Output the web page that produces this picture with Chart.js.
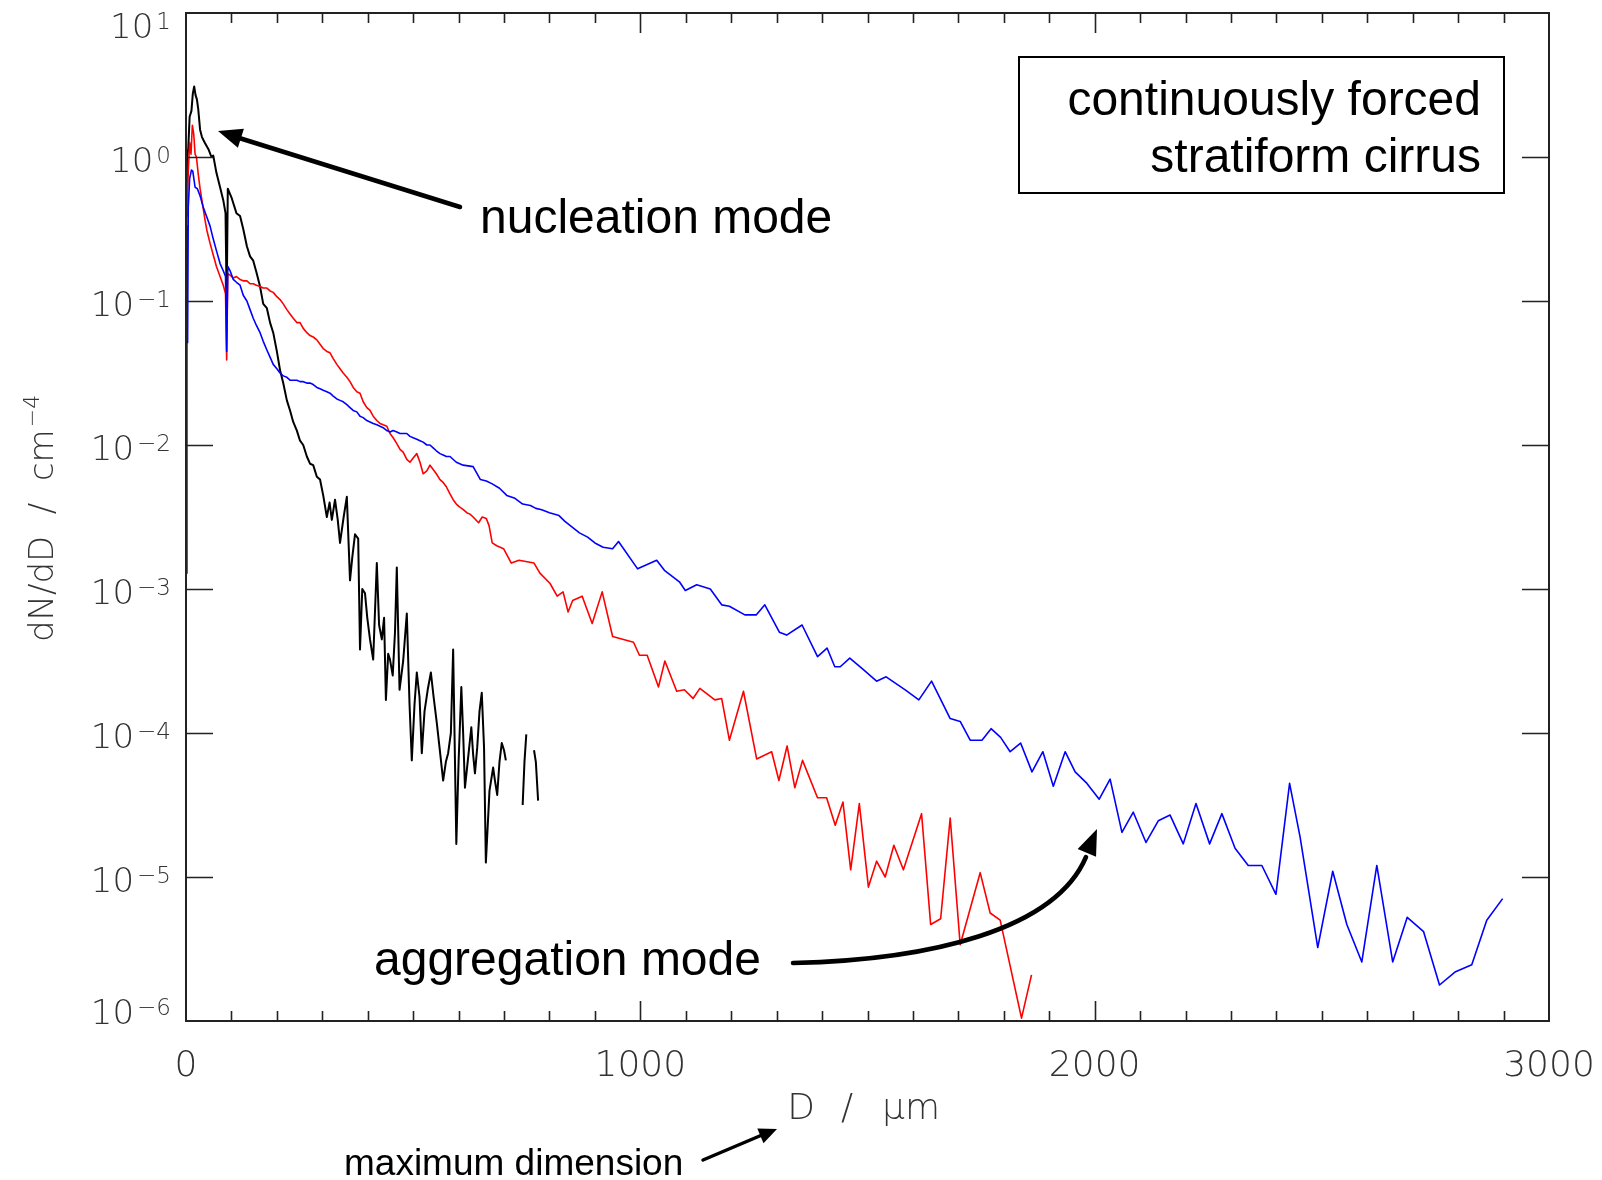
<!DOCTYPE html>
<html>
<head>
<meta charset="utf-8">
<title>continuously forced stratiform cirrus</title>
<script src="https://cdn.jsdelivr.net/npm/chart.js@4.4.0/dist/chart.umd.min.js"></script>
<style>
  html, body { margin: 0; padding: 0; background: #fff; }
  canvas { display: block; }
</style>
</head>
<body>
<canvas id="chart" width="1602" height="1180"></canvas>
<script>
// D in micrometres, values stored as log10(dN/dD / cm^-4), null = empty bin
const blackD = [0,2,5,8,12,15,18,21,24,27, 31,35,38,42,50,56,60,67,75,82,
  87,89.5,92,100,111,119,126,134,141,148, 155,163,170,178,185,192,200,207,214,222,
  229,236,244,251,258,266,273,280,288,295, 302,310,316,321,328,334,339,347,354,361,
  366,372,379,383,388,394,399,405,412,420, 425,431,436,440,445,449,455,460,464,470,
  478,486,492,497,503,508,514,519,525,532, 539,545,552,558,566,572,577,583,588,591,
  595,600,606,610,614,620,628,632,636,641, 646,651,656,660,668,676,680,685,690,695,
  700,704,720,741,745,749,757,766,770,775];
const blackLog = [-0.41,-0.02,0.06,0.28,0.32,0.44,0.49,0.43,0.40,0.33, 0.19,0.14,0.12,0.095,0.05,0.0,0.01,-0.11,-0.21,-0.30,
  -0.39,-1.0,-0.22,-0.28,-0.39,-0.41,-0.50,-0.62,-0.69,-0.72, -0.80,-0.90,-1.02,-1.05,-1.15,-1.22,-1.35,-1.48,-1.57,-1.69,
  -1.76,-1.84,-1.90,-1.97,-2.00,-2.08,-2.13,-2.14,-2.22,-2.24, -2.35,-2.50,-2.40,-2.52,-2.38,-2.52,-2.68,-2.50,-2.36,-2.94,
  -2.78,-2.62,-2.65,-3.42,-3.00,-3.03,-3.20,-3.35,-3.49,-2.82, -3.25,-3.35,-3.20,-3.77,-3.45,-3.49,-3.60,-3.30,-2.85,-3.70,
  -3.50,-3.17,-3.80,-4.19,-3.80,-3.58,-3.75,-4.14,-3.85,-3.70, -3.58,-3.75,-3.93,-4.10,-4.33,-4.20,-4.14,-4.00,-3.42,-4.00,
  -4.77,-4.20,-3.68,-4.00,-4.38,-4.20,-3.96,-4.15,-4.28,-4.10, -3.85,-3.72,-4.10,-4.90,-4.40,-4.24,-4.33,-4.43,-4.20,-4.07,
  -4.12,-4.19,null,-4.50,-4.20,-4.01,null,-4.12,-4.20,-4.47];

const redD = [0,2,5,8,11,14,17,20,23,27, 31,35,42,46,53,60,67,75,82,87,
  89.5,92,97,104,111,119,126,134,141,148, 155,163,170,178,185,192,200,207,214,222,
  229,236,244,251,258,266,273,280,288,295, 302,310,317,324,332,339,346,354,361,368,
  376,383,390,398,405,412,420,427,434,442, 449,456,464,471,478,486,493,500,508,515,
  522,530,537,544,551,559,566,573,581,588, 595,602,611,618,625,632,644,652,661,667,
  674,684,699,716,733,766,779,801,817,830, 841,851,872,894,916,939,985,998,1015,1040,
  1054,1080,1097,1116,1131,1164,1179,1196,1227,1256, 1289,1305,1323,1340,1357,1390,1410,1429,1446,1463,
  1482,1502,1520,1539,1558,1579,1619,1639,1661,1682, 1704,1748,1770,1792,1839,1861];
const redLog = [-0.48,-0.42,-0.10,0.10,0.02,0.22,0.16,0.02,0.0,-0.12, -0.22,-0.30,-0.44,-0.51,-0.60,-0.68,-0.76,-0.83,-0.89,-0.95,
  -1.41,-0.81,-0.82,-0.84,-0.83,-0.85,-0.86,-0.86,-0.88,-0.88, -0.89,-0.90,-0.91,-0.91,-0.93,-0.94,-0.97,-0.99,-1.02,-1.06,
  -1.09,-1.12,-1.15,-1.15,-1.19,-1.22,-1.24,-1.25,-1.27,-1.30, -1.33,-1.35,-1.36,-1.40,-1.44,-1.47,-1.50,-1.53,-1.56,-1.60,
  -1.63,-1.64,-1.70,-1.74,-1.76,-1.80,-1.83,-1.85,-1.86,-1.87, -1.92,-1.95,-1.99,-2.03,-2.05,-2.10,-2.12,-2.09,-2.06,-2.12,
  -2.20,-2.18,-2.14,-2.17,-2.20,-2.24,-2.26,-2.29,-2.34,-2.38, -2.41,-2.43,-2.45,-2.47,-2.48,-2.50,-2.54,-2.50,-2.51,-2.56,
  -2.68,-2.70,-2.72,-2.82,-2.80,-2.82,-2.89,-2.96,-3.05,-3.02, -3.16,-3.08,-3.05,-3.24,-3.02,-3.33,-3.37,-3.46,-3.46,-3.68,
  -3.50,-3.71,-3.70,-3.76,-3.69,-3.77,-3.76,-4.05,-3.71,-4.18, -4.13,-4.33,-4.09,-4.38,-4.19,-4.45,-4.45,-4.64,-4.48,-4.95,
  -4.49,-5.07,-4.89,-5.00,-4.78,-4.95,-4.56,-5.33,-5.29,-4.59, -5.47,-4.97,-5.25,-5.30,-5.98,-5.68];

const blueD = [0,2,3.5,5,8,12,15,20,25,31, 38,45,53,60,67,75,82,87,89.5,92,
  97,104,111,119,126,134,141,148,155,163, 170,178,185,192,200,207,214,222,229,236,
  244,251,258,266,273,280,288,295,302,310, 317,324,332,339,346,354,361,368,376,383,
  390,398,405,412,420,427,434,442,449,456, 464,471,478,486,493,500,508,515,522,530,
  537,544,551,559,566,573,581,595,610,632, 648,661,674,690,706,724,741,758,770,783,
  800,821,834,850,866,884,900,918,939,952, 994,1036,1053,1086,1099,1124,1154,1179,1196,1230,
  1255,1274,1306,1322,1356,1390,1411,1428,1440,1461, 1491,1520,1541,1583,1613,1641,1682,1704,1726,1752,
  1772,1793,1814,1837,1862,1886,1909,1935,1957,1983, 2010,2034,2060,2085,2113,2140,2166,2195,2223,2253,
  2280,2309,2338,2368,2399,2429,2452,2491,2524,2555, 2588,2621,2656,2688,2724,2759,2793,2830,2863,2898];
const blueLog = [-2.89,-0.48,-1.29,-0.35,-0.15,-0.09,-0.10,-0.21,-0.22,-0.27, -0.35,-0.41,-0.48,-0.57,-0.65,-0.74,-0.79,-0.83,-1.35,-0.76,
  -0.79,-0.85,-0.87,-0.89,-0.96,-1.00,-1.06,-1.12,-1.17,-1.22, -1.28,-1.34,-1.39,-1.44,-1.47,-1.50,-1.52,-1.53,-1.55,-1.55,
  -1.55,-1.56,-1.56,-1.57,-1.57,-1.58,-1.60,-1.61,-1.62,-1.63, -1.64,-1.66,-1.68,-1.69,-1.70,-1.72,-1.74,-1.76,-1.77,-1.80,
  -1.81,-1.83,-1.84,-1.85,-1.86,-1.87,-1.88,-1.90,-1.91,-1.90, -1.91,-1.92,-1.92,-1.92,-1.94,-1.95,-1.96,-1.97,-1.98,-2.00,
  -2.00,-2.02,-2.04,-2.06,-2.07,-2.08,-2.08,-2.12,-2.14,-2.15, -2.24,-2.25,-2.27,-2.30,-2.35,-2.37,-2.41,-2.42,-2.44,-2.45,
  -2.47,-2.49,-2.53,-2.57,-2.61,-2.64,-2.68,-2.71,-2.72,-2.67, -2.86,-2.80,-2.87,-2.95,-3.01,-2.97,-3.00,-3.11,-3.12,-3.18,
  -3.18,-3.11,-3.30,-3.32,-3.25,-3.47,-3.41,-3.54,-3.54,-3.48, -3.56,-3.64,-3.61,-3.70,-3.77,-3.64,-3.90,-3.92,-4.05,-4.05,
  -3.97,-4.03,-4.13,-4.07,-4.27,-4.13,-4.37,-4.13,-4.27,-4.35, -4.46,-4.32,-4.69,-4.55,-4.76,-4.61,-4.57,-4.77,-4.49,-4.77,
  -4.56,-4.80,-4.92,-4.92,-5.12,-4.35,-4.72,-5.49,-4.96,-5.33, -5.59,-4.92,-5.59,-5.28,-5.38,-5.75,-5.66,-5.61,-5.30,-5.15];

// axis labelling
const xLabels = [0, 1000, 2000, 3000];
const yExponents = [1, 0, -1, -2, -3, -4, -5, -6];

const tickFont = '200 36px "DejaVu Sans"';
const annoFont = '48px "Liberation Sans", Arial, sans-serif';

function toPoints(ds, logs) {
  return ds.map((d, i) => ({ x: d, y: logs[i] === null ? null : Math.pow(10, logs[i]) }));
}

function arrowHead(ctx, tipX, tipY, dx, dy, len, half) {
  const bx = tipX - dx * len, by = tipY - dy * len;
  ctx.beginPath();
  ctx.moveTo(tipX, tipY);
  ctx.lineTo(bx - dy * half, by + dx * half);
  ctx.lineTo(bx + dy * half, by - dx * half);
  ctx.closePath();
  ctx.fill();
}

const decor = {
  id: 'decor',
  afterDatasetsDraw(chart) {
    const { ctx, chartArea: a, scales: { x, y } } = chart;
    ctx.save();

    // frame
    ctx.strokeStyle = '#222';
    ctx.lineWidth = 2;
    ctx.strokeRect(a.left, a.top, a.right - a.left, a.bottom - a.top);

    // x ticks, inward on bottom and top
    ctx.lineWidth = 1.6;
    ctx.beginPath();
    for (let v = 100; v < 3000; v += 100) {
      const px = Math.round(x.getPixelForValue(v)) + 0.5;
      const len = v % 1000 === 0 ? 20 : 10;
      ctx.moveTo(px, a.bottom); ctx.lineTo(px, a.bottom - len);
      ctx.moveTo(px, a.top); ctx.lineTo(px, a.top + len);
    }
    // y ticks at each decade, left and right
    yExponents.forEach(e => {
      if (e === 1 || e === -6) return;
      const py = Math.round(y.getPixelForValue(Math.pow(10, e))) + 0.5;
      ctx.moveTo(a.left, py); ctx.lineTo(a.left + 27, py);
      ctx.moveTo(a.right, py); ctx.lineTo(a.right - 27, py);
    });
    ctx.stroke();

    // x tick labels
    ctx.fillStyle = '#333';
    ctx.font = tickFont;
    ctx.textAlign = 'center';
    ctx.textBaseline = 'alphabetic';
    xLabels.forEach(v => ctx.fillText(String(v), x.getPixelForValue(v), 1076));

    // y tick labels 10^n
    yExponents.forEach(e => {
      const py = y.getPixelForValue(Math.pow(10, e));
      let cy = py + 2;
      if (e === 1) cy = py + 12;
      if (e === -6) cy = py - 10;
      const sup = e < 0 ? '\u2212' + (-e) : String(e);
      ctx.font = '200 23px "DejaVu Sans"';
      const sw = ctx.measureText(sup).width;
      ctx.textAlign = 'left';
      ctx.fillText(sup, 171 - sw, cy + 4);
      ctx.font = '200 34px "DejaVu Sans"';
      ctx.textAlign = 'right';
      ctx.fillText('10', 171 - sw - 3, cy + 12.5);
    });

    // x title
    ctx.font = tickFont;
    ctx.textAlign = 'center';
    ctx.fillText('D', 801, 1119);
    ctx.fillText('/', 847, 1119);
    ctx.fillText('\u03bcm', 911, 1119);

    // y title, rotated
    ctx.save();
    ctx.translate(53, 642);
    ctx.rotate(-Math.PI / 2);
    ctx.font = '200 34px "DejaVu Sans"';
    ctx.textAlign = 'left';
    const title = 'dN/dD  /  cm';
    ctx.fillText(title, 0, 0);
    const tw = ctx.measureText(title).width;
    ctx.font = '200 22px "DejaVu Sans"';
    ctx.fillText('\u22124', tw + 2, -14);
    ctx.restore();

    // annotations
    ctx.fillStyle = '#000';
    ctx.strokeStyle = '#000';
    ctx.font = annoFont;
    ctx.textAlign = 'left';
    ctx.fillText('nucleation mode', 480, 233);
    ctx.fillText('aggregation mode', 374, 975);

    ctx.lineWidth = 2;
    ctx.strokeRect(1019, 57, 485, 136);
    ctx.textAlign = 'right';
    ctx.fillText('continuously forced', 1481, 115);
    ctx.fillText('stratiform cirrus', 1481, 172);

    ctx.font = '37px "Liberation Sans", Arial, sans-serif';
    ctx.textAlign = 'left';
    ctx.fillText('maximum dimension', 344, 1175);

    // arrow to nucleation mode
    ctx.lineCap = 'round';
    ctx.lineWidth = 4.5;
    ctx.beginPath();
    ctx.moveTo(460, 207);
    ctx.lineTo(236, 137);
    ctx.stroke();
    arrowHead(ctx, 218, 131, -0.954, -0.300, 24, 10);

    // curved arrow to aggregation mode
    ctx.beginPath();
    ctx.moveTo(793, 963);
    ctx.bezierCurveTo(930, 960, 1055, 930, 1086, 857);
    ctx.stroke();
    arrowHead(ctx, 1097, 829, 0.39, -0.92, 26, 10);

    // arrow from "maximum dimension"
    ctx.lineWidth = 3.5;
    ctx.beginPath();
    ctx.moveTo(703, 1160);
    ctx.lineTo(762, 1135);
    ctx.stroke();
    arrowHead(ctx, 777, 1129, 0.922, -0.386, 18, 8);

    ctx.restore();
  }
};

const lineStyle = { pointRadius: 0, tension: 0, fill: false, spanGaps: false, borderJoinStyle: 'round' };

new Chart(document.getElementById('chart').getContext('2d'), {
  type: 'line',
  data: {
    datasets: [
      Object.assign({ label: 'blue', data: toPoints(blueD, blueLog), borderColor: '#0000ff', borderWidth: 1.6 }, lineStyle),
      Object.assign({ label: 'red', data: toPoints(redD, redLog), borderColor: '#ff0000', borderWidth: 1.6 }, lineStyle),
      Object.assign({ label: 'black', data: toPoints(blackD, blackLog), borderColor: '#000000', borderWidth: 2 }, lineStyle)
    ]
  },
  options: {
    responsive: false,
    animation: false,
    devicePixelRatio: 1,
    events: [],
    layout: { padding: { left: 186, right: 53, top: 13, bottom: 159 } },
    plugins: { legend: { display: false }, tooltip: { enabled: false } },
    scales: {
      x: { type: 'linear', min: 0, max: 3000, display: false },
      y: { type: 'logarithmic', min: 1e-6, max: 10, display: false }
    }
  },
  plugins: [decor]
});
</script>
</body>
</html>
